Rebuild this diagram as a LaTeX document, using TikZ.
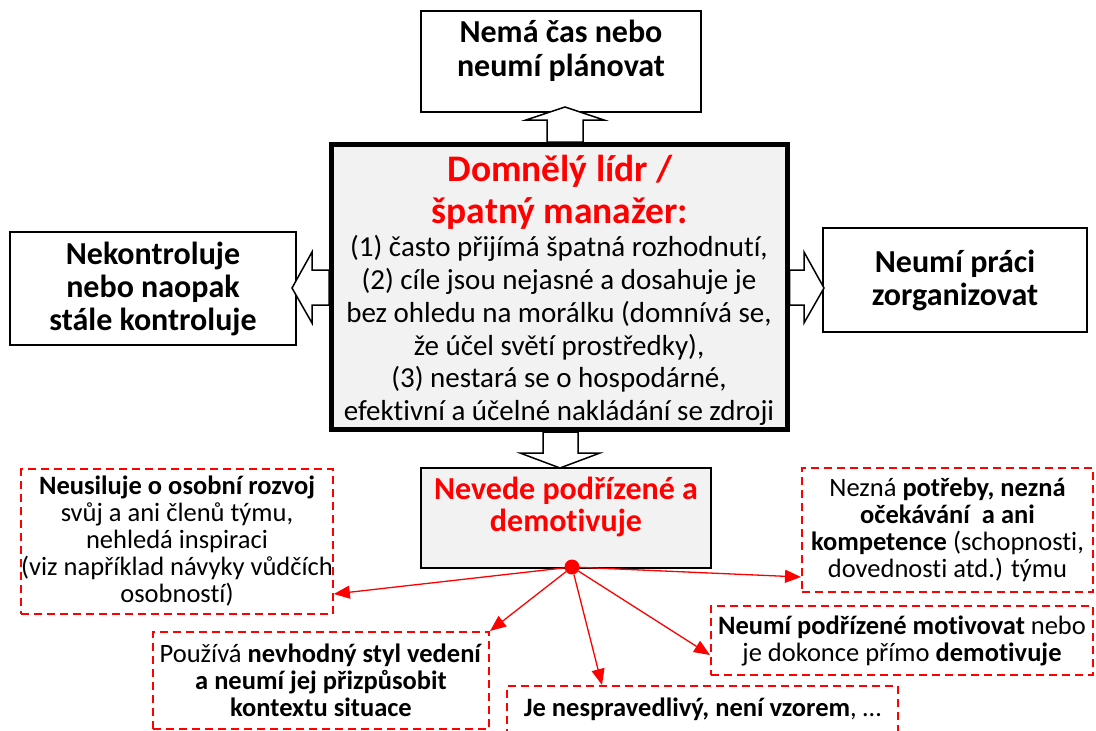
\documentclass[tikz,border=0pt]{standalone}
\usepackage{fontspec}
\setmainfont{Carlito}[Ligatures=NoCommon]
\usetikzlibrary{arrows.meta,calc}

\definecolor{boxgray}{HTML}{F2F2F2}

\tikzset{
  plainbox/.style={draw, line width=1.8pt, fill=white, align=center,
    font=\bfseries\fontsize{32}{33}\selectfont},
  mainbox/.style={draw, line width=5pt, fill=boxgray},
  hollow/.style={draw, line width=1.5pt, fill=white, line join=miter},
  cause/.style={draw=red, dash pattern=on 8pt off 5pt, line width=2pt,
    inner xsep=0pt, align=center, font=\fontsize{26.5}{27}\selectfont},
  link/.style={red, line width=1.3pt, -{Triangle[length=16pt,width=13pt]}},
}

\begin{document}
\begin{tikzpicture}[x=1pt,y=-1pt]
  \useasboundingbox (0,0) rectangle (1096,731);

  % outer boxes
  \node[plainbox, minimum width=280, minimum height=101] (plan) at (561,61.5) {};
  \node[font=\bfseries\fontsize{32}{34}\selectfont, align=center] (plantext)
    at (561,50.5) {Nemá čas nebo\\neumí plánovat};
  \node[plainbox, minimum width=286, minimum height=113] (control) at (153,288.5)
    {Nekontroluje\\nebo naopak\\stále kontroluje};
  \node[plainbox, minimum width=264, minimum height=104] (organise) at (955,280)
    {Neumí práci\\zorganizovat};

  % main box
  \node[mainbox, minimum width=455.5, minimum height=285] (centre) at (559.25,287) {};
  \node[text=red, font=\bfseries\fontsize{37.5}{42}\selectfont, align=center] (title)
    at (560,192) {Domnělý lídr /\\špatný manažer:};
  \node[font=\fontsize{29}{32.8}\selectfont, align=center] (body) at (559,330.5)
    {(1) často přijímá špatná rozhodnutí,\\(2) cíle jsou nejasné a dosahuje je\\
     bez ohledu na morálku (domnívá se,\\že účel světí prostředky),\\
     (3) nestará se o hospodárné,\\efektivní a účelné nakládání se zdroji};

  % hollow arrows
  \draw[hollow] ([xshift=-12.25pt]centre.north) -- ++(0,-22) -- ++(-21,0)
    -- ++(39,-13) -- ++(39,13) -- ++(-21,0) -- ++(0,22) -- cycle;
  \draw[hollow] ([yshift=17pt]centre.west) -- ++(-17,0) -- ++(0,-18)
    -- ++(-20,36) -- ++(20,35) -- ++(0,-18) -- ++(17,0) -- cycle;
  \draw[hollow] ([yshift=17pt]centre.east) -- ++(14.5,0) -- ++(0,-18)
    -- ++(20,36) -- ++(-20,35) -- ++(0,-18) -- ++(-14.5,0) -- cycle;
  \draw[hollow] ([xshift=-16.25pt]centre.south) -- ++(0,21) -- ++(-23,0)
    -- ++(40,15) -- ++(40,-15) -- ++(-22,0) -- ++(0,-21) -- cycle;

  % consequence
  \node[draw, line width=2pt, fill=boxgray, minimum width=290, minimum height=100]
    (lead) at (566,518) {};
  \node[text=red, font=\bfseries\fontsize{32}{32}\selectfont, align=center]
    (leadtext) at (566,507) {Nevede podřízené a\\demotivuje};

  % dashed boxes
  \node[cause, minimum width=310, minimum height=145] (growth) at (177,541.5)
    {\textbf{Neusiluje o osobní rozvoj}\\svůj a ani členů týmu,\\nehledá inspiraci\\
     (viz například návyky vůdčích\\osobností)};
  \node[cause, minimum width=291, minimum height=124] (needs) at (947.5,530)
    {Nezná \textbf{potřeby, nezná}\\\textbf{očekávání~ a ani}\\
     \textbf{kompetence} (schopnosti,\\dovednosti atd.) týmu};
  \node[cause, minimum width=336, minimum height=97] (style) at (321,680.5)
    {Používá \textbf{nevhodný styl vedení}\\\textbf{a neumí jej přizpůsobit}\\
     \textbf{kontextu situace}};
  \node[cause, minimum width=382, minimum height=69] (motiv) at (902,640.5)
    {\textbf{Neumí podřízené motivovat} nebo\\je dokonce přímo \textbf{demotivuje}};
  \node[cause, minimum width=391, minimum height=46] (fair) at (702.5,709)
    {\textbf{Je nespravedlivý, není vzorem}, …};

  % links
  \node[circle, fill=red, minimum size=15, inner sep=0] (hub) at (572,567) {};
  \draw[link] (hub) -- ([yshift=-52.5pt]growth.east);
  \draw[link] (hub) -- (style.north east);
  \draw[link] (hub) -- ([xshift=-100.5pt]fair.north);
  \draw[link] (hub) -- ([yshift=-14.5pt]motiv.west);
  \draw[link] (hub) -- ([yshift=-47pt]needs.west);
\end{tikzpicture}
\end{document}
